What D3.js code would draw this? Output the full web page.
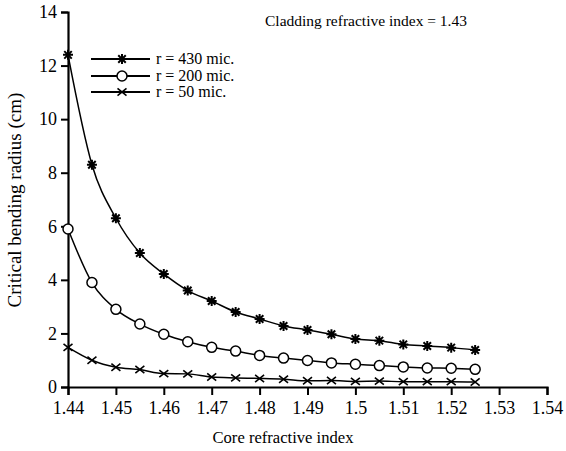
<!DOCTYPE html>
<html>
<head>
<meta charset="utf-8">
<style>
  body { margin: 0; background: #fff; }
  svg, svg text { font-family: "Liberation Serif", "Times New Roman", serif; }
</style>
</head>
<body>
<svg width="566" height="451"></svg>
<script src="https://cdn.jsdelivr.net/npm/d3@7"></script>
<script>

var coreIndex = [1.44, 1.445, 1.45, 1.455, 1.46, 1.465, 1.47, 1.475, 1.48, 1.485,
                 1.49, 1.495, 1.5, 1.505, 1.51, 1.515, 1.52, 1.525];

var r430 = [12.4, 8.3, 6.3, 5.0, 4.22, 3.6, 3.21, 2.8, 2.54, 2.28,
            2.13, 1.97, 1.79, 1.73, 1.59, 1.53, 1.47, 1.38];
var r200 = [5.9, 3.9, 2.9, 2.35, 1.97, 1.69, 1.48, 1.34, 1.18, 1.08,
            0.99, 0.9, 0.85, 0.8, 0.75, 0.71, 0.7, 0.66];
var r50 = [1.48, 1.0, 0.74, 0.65, 0.5, 0.49, 0.37, 0.34, 0.32, 0.29,
           0.23, 0.24, 0.21, 0.22, 0.2, 0.2, 0.2, 0.19];

var seriesNames = ["r = 430 mic.", "r = 200 mic.", "r = 50 mic."];
var markers = ["star", "circle", "cross"];
var xTicks = [1.44, 1.45, 1.46, 1.47, 1.48, 1.49, 1.5, 1.51, 1.52, 1.53, 1.54];
var yTicks = [0, 2, 4, 6, 8, 10, 12, 14];

var svg = d3.select("svg");

var x = d3.scaleLinear().domain([1.44, 1.54]).range([68, 547]);
var y = d3.scaleLinear().domain([0, 14]).range([387, 12]);

// axes
var xAxis = svg.append("g")
    .attr("transform", "translate(0," + y(0) + ")")
    .call(d3.axisBottom(x).tickValues(xTicks).tickSize(8).tickPadding(6)
      .tickFormat(function(d) { return String(+d.toFixed(2)); }));
var yAxis = svg.append("g")
    .attr("transform", "translate(" + x(1.44) + ",0)")
    .call(d3.axisLeft(y).tickValues(yTicks).tickSize(7).tickPadding(4));

[xAxis, yAxis].forEach(function(a) {
  a.attr("font-family", null).attr("font-size", null);
  a.select(".domain").attr("stroke", "#000").attr("stroke-width", 2.2);
  a.selectAll(".tick line").attr("stroke", "#000").attr("stroke-width", 2);
  a.selectAll("text").style("font-size", "18px").attr("fill", "#000");
});

// labels
svg.append("text")
    .attr("x", 283).attr("y", 443)
    .attr("text-anchor", "middle").style("font-size", "16.6px")
    .text("Core refractive index");
svg.append("text")
    .attr("transform", "translate(21,200) rotate(-90)")
    .attr("text-anchor", "middle").style("font-size", "19px")
    .text("Critical bending radius (cm)");
svg.append("text")
    .attr("x", 366).attr("y", 26)
    .attr("text-anchor", "middle").style("font-size", "15.5px")
    .text("Cladding refractive index = 1.43");

function drawMarker(g, type, cx, cy) {
  if (type === "star") {
    var s = 5;
    g.append("path")
      .attr("d", "M" + (cx - s) + "," + cy + "h" + 2 * s +
                 "M" + cx + "," + (cy - s) + "v" + 2 * s +
                 "M" + (cx - s * 0.75) + "," + (cy - s * 0.75) + "l" + 1.5 * s + "," + 1.5 * s +
                 "M" + (cx - s * 0.75) + "," + (cy + s * 0.75) + "l" + 1.5 * s + "," + -1.5 * s)
      .attr("stroke", "#000").attr("stroke-width", 2).attr("fill", "none");
  } else if (type === "circle") {
    g.append("circle").attr("cx", cx).attr("cy", cy).attr("r", 5)
      .attr("fill", "#fff").attr("stroke", "#000").attr("stroke-width", 1.5);
  } else {
    var c = 4.5;
    g.append("path")
      .attr("d", "M" + (cx - c) + "," + (cy - c * 0.8) + "L" + (cx + c) + "," + (cy + c * 0.8) +
                 "M" + (cx - c) + "," + (cy + c * 0.8) + "L" + (cx + c) + "," + (cy - c * 0.8))
      .attr("stroke", "#000").attr("stroke-width", 1.6).attr("fill", "none");
  }
}

var line = d3.line()
    .x(function(d) { return x(d[0]); })
    .y(function(d) { return y(d[1]); })
    .curve(d3.curveMonotoneX);

[r430, r200, r50].forEach(function(vals, i) {
  var pts = coreIndex.map(function(c, j) { return [c, vals[j]]; });
  svg.append("path").datum(pts)
      .attr("d", line)
      .attr("fill", "none").attr("stroke", "#000").attr("stroke-width", 1.5);
  var g = svg.append("g");
  pts.forEach(function(p) { drawMarker(g, markers[i], x(p[0]), y(p[1])); });
});

// legend
var legY = [59, 76, 92];
seriesNames.forEach(function(name, i) {
  var g = svg.append("g");
  g.append("line").attr("x1", 91).attr("x2", 150).attr("y1", legY[i]).attr("y2", legY[i])
    .attr("stroke", "#000").attr("stroke-width", 2);
  drawMarker(g, markers[i], 122, legY[i]);
  g.append("text").attr("x", 156).attr("y", legY[i] + 5)
    .style("font-size", "16px").text(name);
});

</script>
</body>
</html>
